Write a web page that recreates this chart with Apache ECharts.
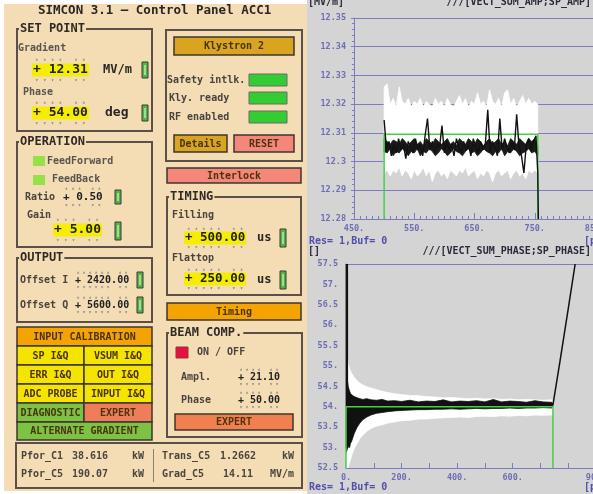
<!DOCTYPE html>
<html>
<head>
<meta charset="utf-8">
<script src="https://cdn.jsdelivr.net/npm/echarts@6/dist/echarts.min.js"></script>
<style>
html,body{margin:0;padding:0;background:#fff;}
#chart{width:593px;height:494px;}
</style>
</head>
<body>
<div id="chart"></div>
<script>
// ---- top plot: VECT_SUM_AMP / SP_AMP ----
var topYLabels = ['12.28', '12.29', '12.3', '12.31', '12.32', '12.33', '12.34', '12.35'];
var topXLabels = ['450.', '550.', '650.', '750.', '850.'];
var topEnvX = [500,505,510,515,520,525,530,535,540,545,550,555,560,565,570,575,580,585,590,595,600,605,610,615,620,625,630,635,640,645,650,655,660,665,670,675,680,685,690,695,700,705,710,715,720,725,730,735,740,745,750,755];
var topWhiteHi = [12.326,12.327,12.320,12.322,12.319,12.326,12.321,12.320,12.322,12.319,
  12.321,12.320,12.322,12.319,12.321,12.320,12.319,12.322,12.320,12.321,
  12.319,12.322,12.320,12.319,12.321,12.323,12.320,12.322,12.319,12.321,
  12.320,12.324,12.320,12.321,12.319,12.325,12.321,12.320,12.322,12.319,
  12.324,12.325,12.320,12.322,12.319,12.321,12.323,12.320,12.322,12.320,
  12.321,12.320];
var topWhiteLo = [12.296,12.297,12.295,12.297,12.296,12.298,12.295,12.297,12.296,12.294,
  12.297,12.295,12.296,12.298,12.295,12.297,12.293,12.296,12.297,12.295,
  12.296,12.294,12.297,12.296,12.295,12.297,12.296,12.298,12.295,12.296,
  12.297,12.294,12.296,12.295,12.297,12.296,12.293,12.296,12.297,12.295,
  12.296,12.297,12.294,12.296,12.297,12.295,12.296,12.294,12.297,12.296,
  12.297,12.296];
var topBlackHi = [12.308,12.307,12.306,12.3075,12.307,12.306,12.308,12.307,12.3055,12.307,
  12.308,12.306,12.307,12.3055,12.308,12.307,12.306,12.308,12.307,12.306,
  12.307,12.308,12.306,12.307,12.3055,12.308,12.307,12.306,12.308,12.307,
  12.306,12.308,12.307,12.3055,12.307,12.308,12.306,12.307,12.308,12.306,
  12.307,12.3055,12.308,12.307,12.306,12.308,12.307,12.306,12.308,12.307,
  12.308,12.3055];
var topBlackLo = [12.3035,12.303,12.3045,12.302,12.3035,12.303,12.3045,12.3035,12.302,12.3035,
  12.303,12.3045,12.302,12.3035,12.303,12.3045,12.3035,12.302,12.303,12.3045,
  12.3035,12.302,12.303,12.3045,12.3035,12.303,12.302,12.3035,12.3045,12.303,
  12.3035,12.302,12.303,12.3045,12.3035,12.303,12.302,12.3035,12.303,12.3045,
  12.302,12.3035,12.303,12.3045,12.3035,12.302,12.303,12.3035,12.3045,12.303,
  12.3035,12.302];
var topTraceX = [500,504,508,512,516,520,524,528,532,536,540,544,548,552,556,560,564,568,572,576,
  580,584,588,592,596,600,604,608,612,616,620,624,628,632,636,640,644,648,652,656,
  660,664,668,672,676,680,684,688,692,696,700,704,708,712,716,720,724,728,732,736,
  740,744,748,752,755,756];
var topTraceY = [12.3145,12.304,12.307,12.302,12.306,12.303,12.308,12.304,12.306,12.301,
  12.307,12.305,12.303,12.308,12.304,12.306,12.302,12.309,12.315,12.304,
  12.307,12.303,12.306,12.305,12.3125,12.303,12.307,12.304,12.306,12.302,
  12.308,12.305,12.303,12.307,12.304,12.306,12.302,12.308,12.305,12.303,
  12.307,12.304,12.306,12.318,12.303,12.307,12.305,12.302,12.315,12.304,
  12.308,12.305,12.303,12.307,12.304,12.3165,12.305,12.302,12.296,12.306,
  12.308,12.304,12.307,12.309,12.296,12.28];
var topSpX = [500, 500, 755, 755];
var topSpY = [12.28, 12.3095, 12.3095, 12.28];

// ---- bottom plot: VECT_SUM_PHASE / SP_PHASE ----
var botYLabels = ['52.5', '53.', '53.5', '54.', '54.5', '55.', '55.5', '56.', '56.5', '57.', '57.5'];
var botXShown = [0, 200, 400, 600, 900];
var botEnvX = [0,2,4,6,8,10,13,16,20,25,30,40,50,60,75,90,110,130,150,175,
  200,230,260,290,320,350,380,410,440,470,500,530,560,590,620,650,680,710,740,745];
var botWhiteHi = [55.6,55.45,55.3,55.15,55.05,55.0,54.93,54.88,54.82,54.77,
  54.72,54.64,54.58,54.54,54.49,54.46,54.42,54.38,54.35,54.32,
  54.3,54.28,54.27,54.25,54.24,54.22,54.23,54.21,54.2,54.21,
  54.19,54.2,54.18,54.19,54.17,54.18,54.17,54.16,54.17,54.12];
var botWhiteLo = [52.5,52.5,52.5,52.5,52.52,52.56,52.63,52.7,52.8,52.9,
  52.98,53.1,53.22,53.3,53.4,53.47,53.53,53.56,53.6,53.63,
  53.66,53.67,53.7,53.7,53.72,53.73,53.74,53.75,53.74,53.76,
  53.77,53.76,53.78,53.77,53.79,53.78,53.8,53.79,53.8,53.82];
var botBlackHi = [57.5,57.5,54.75,54.6,54.5,54.45,54.38,54.33,54.3,54.27,
  54.25,54.22,54.2,54.18,54.2,54.17,54.16,54.18,54.14,54.15,
  54.13,54.16,54.12,54.14,54.13,54.17,54.12,54.14,54.13,54.15,
  54.12,54.18,54.12,54.14,54.13,54.11,54.15,54.12,54.11,54.08];
var botBlackLo = [52.9,52.9,52.95,53.0,53.0,53.05,53.0,53.1,53.15,53.25,
  53.35,53.5,53.6,53.68,53.75,53.8,53.84,53.86,53.88,53.9,
  53.91,53.92,53.93,53.93,53.94,53.94,53.95,53.94,53.95,53.96,
  53.95,53.96,53.96,53.97,53.96,53.97,53.97,53.98,53.97,54.0];
var botStartX = [3, 3];
var botStartY = [57.5, 53.0];
var botRiseX = [745, 770, 800, 825];
var botRiseY = [54.05, 55.1, 56.4, 57.5];
var botSpX = [0, 0, 745, 745];
var botSpY = [52.5, 54.0, 54.0, 52.5];

var MONO = '"DejaVu Sans Mono"';
var beige = '#f4dcb4';
var axisBlue = '#7c7cc2';
var labelBlue = '#6e6eb4';

function zip(xs, ys) { return xs.map(function (x, i) { return [x, ys[i]]; }); }

// min/max envelope drawn as one polygon through the axis scales
function band(xs, lo, hi, color, idx) {
  return {
    type: 'custom', xAxisIndex: idx, yAxisIndex: idx, silent: true, clip: true,
    data: [[xs[0], lo[0]]],
    renderItem: function (params, api) {
      var pts = [];
      for (var i = 0; i < xs.length; i++) pts.push(api.coord([xs[i], hi[i]]));
      for (var j = xs.length - 1; j >= 0; j--) pts.push(api.coord([xs[j], lo[j]]));
      return { type: 'polygon', shape: { points: pts },
        style: { fill: color, stroke: color, lineWidth: 0.8 } };
    }
  };
}

function trace(xs, ys, color, width, idx) {
  return { type: 'line', xAxisIndex: idx, yAxisIndex: idx, data: zip(xs, ys), showSymbol: false,
    silent: true, lineStyle: { color: color, width: width } };
}

// ---- control panel drawn with graphic elements ----
var els = [];
function R(x, y, w, h, fill, stroke, lw) {
  els.push({ type: 'rect', shape: { x: x, y: y, width: w, height: h },
    style: { fill: fill || 'none', stroke: stroke || null, lineWidth: lw || 0 } });
}
function T(x, y, s, size, color, align, bold) {
  els.push({ type: 'text', x: x, y: y, style: { text: s,
    font: (bold === false ? '' : 'bold ') + size + 'px ' + MONO,
    fill: color || '#3a3530', align: align || 'left', verticalAlign: 'middle' } });
}
function frame(x, y, w, h, label) {
  R(x, y, w, h, null, '#5a5048', 2);
  if (label) {
    els.push({ type: 'text', x: x + 2, y: y, style: { text: label, font: 'bold 12px ' + MONO,
      fill: '#2e2a26', backgroundColor: beige, verticalAlign: 'middle', padding: [0, 1] } });
  }
}
function btn(x, y, w, h, fill, label) {
  R(x, y, w, h, fill, '#3c3630', 1.5);
  T(x + w / 2, y + h / 2 + 0.5, label, 10, '#4a3410', 'center');
}
function field(x, y, s, size, hl, dotColor) {
  var cw = size * 0.602;
  if (hl) R(x - 1, y - 6.5, s.length * cw + 2, 13, '#f5ee00');
  T(x, y, s, size, '#222');
  for (var i = 0; i < s.length; i++) {
    if (s[i] === '.') continue;
    T(x + (i + 0.5) * cw, y - size * 0.78, '\u25b4', 6, '#8a8a8a', 'center', false);
    T(x + (i + 0.5) * cw, y + size * 0.78, '\u25be', 6, dotColor || '#8a8a8a', 'center', false);
  }
}
function toggle(x, y, h) {
  R(x, y, 6, h, '#58b04a', '#3a3a3a', 1);
  R(x + 2, y + 3, 2, h - 6, '#9be08a');
}

R(0, 0, 307, 494, '#ffffff');
R(4, 4, 303, 487, beige);
T(38, 11, 'SIMCON 3.1 \u2013 Control Panel ACC1', 12.5, '#2a2622');

// set point
frame(17, 29, 135, 102, 'SET POINT');
T(18, 48, 'Gradient', 10, '#5a5450');
field(33, 70, '+ 12.31', 13, true);
T(103, 70, 'MV/m', 12, '#2a2622');
toggle(142, 62, 16);
T(23, 92, 'Phase', 10, '#5a5450');
field(33, 113, '+ 54.00', 13, true);
T(105, 113, 'deg', 13, '#2a2622');
toggle(142, 105, 16);

// operation
frame(17, 142, 135, 105, 'OPERATION');
R(33, 156, 12, 10, '#96e048');
T(47, 161, 'FeedForward', 10, '#5a5450');
R(33, 175, 12, 10, '#96e048');
T(52, 179, 'FeedBack', 10, '#5a5450');
T(25, 197, 'Ratio', 10, '#4a4440');
field(63, 197, '+ 0.50', 11, false);
toggle(115, 190, 14);
T(27, 215, 'Gain', 10, '#4a4440');
field(54, 230, '+ 5.00', 13, true, '#5cb85c');
toggle(115, 222, 18);

// output
frame(17, 258, 135, 64, 'OUTPUT');
T(20, 280, 'Offset I', 10, '#4a4440');
field(75, 280, '+ 2420.00', 10, false);
toggle(137, 272, 16);
T(20, 305, 'Offset Q', 10, '#4a4440');
field(75, 305, '+ 5600.00', 10, false);
toggle(137, 297, 16);

// button grid
btn(17, 327, 135, 19, '#f5a300', 'INPUT CALIBRATION');
btn(17, 346, 67, 19, '#f5e400', 'SP I&Q');
btn(84, 346, 68, 19, '#f5e400', 'VSUM I&Q');
btn(17, 365, 67, 19, '#f5e400', 'ERR I&Q');
btn(84, 365, 68, 19, '#f5e400', 'OUT I&Q');
btn(17, 384, 67, 19, '#f5e400', 'ADC PROBE');
btn(84, 384, 68, 19, '#f5e400', 'INPUT I&Q');
btn(17, 403, 67, 19, '#7dc242', 'DIAGNOSTIC');
btn(84, 403, 68, 19, '#f07d5a', 'EXPERT');
btn(17, 422, 135, 18, '#7dc242', 'ALTERNATE GRADIENT');

// readouts
R(16, 443, 286, 45, null, '#5a5048', 2);
R(153, 449, 1, 33, '#8a8078');
T(21, 456, 'Pfor_C1', 10, '#4a4440');
T(72, 456, '38.616', 10, '#4a4440');
T(132, 456, 'kW', 10, '#4a4440');
T(21, 474, 'Pfor_C5', 10, '#4a4440');
T(72, 474, '190.07', 10, '#4a4440');
T(132, 474, 'kW', 10, '#4a4440');
T(162, 456, 'Trans_C5', 10, '#4a4440');
T(220, 456, '1.2662', 10, '#4a4440');
T(282, 456, 'kW', 10, '#4a4440');
T(162, 474, 'Grad_C5', 10, '#4a4440');
T(223, 474, '14.11', 10, '#4a4440');
T(270, 474, 'MV/m', 10, '#4a4440');

// klystron
frame(166, 30, 136, 131);
btn(174, 37, 120, 18, '#d9a521', 'Klystron 2');
T(167, 80, 'Safety intlk.', 10, '#4a4440');
R(249, 74, 38, 12, '#33cc33', '#6a6a6a', 1);
T(169, 98, 'Kly. ready', 10, '#4a4440');
R(249, 92, 38, 12, '#33cc33', '#6a6a6a', 1);
T(169, 117, 'RF enabled', 10, '#4a4440');
R(249, 111, 38, 12, '#33cc33', '#6a6a6a', 1);
btn(174, 135, 53, 17, '#d9a521', 'Details');
btn(234, 135, 60, 17, '#f4877a', 'RESET');
btn(167, 168, 134, 15, '#f4877a', 'Interlock');

// timing
frame(167, 197, 134, 98, 'TIMING');
T(172, 215, 'Filling', 10, '#4a4440');
field(185, 238, '+ 500.00', 12.5, true);
T(257, 238, 'us', 12, '#2a2622');
toggle(280, 229, 18);
T(172, 258, 'Flattop', 10, '#4a4440');
field(185, 279, '+ 250.00', 12.5, true);
T(257, 280, 'us', 12, '#2a2622');
toggle(280, 271, 18);
btn(167, 303, 134, 17, '#f5a300', 'Timing');

// beam comp
frame(167, 333, 135, 104, 'BEAM COMP.');
R(176, 347, 12, 11, '#e8103c', '#8a3a3a', 1);
T(197, 352, 'ON / OFF', 10, '#4a4440');
T(181, 377, 'Ampl.', 10, '#4a4440');
field(238, 377, '+ 21.10', 10, false);
T(181, 400, 'Phase', 10, '#4a4440');
field(238, 400, '+ 50.00', 10, false);
btn(175, 414, 118, 16, '#f08050', 'EXPERT');

// plot headers
T(308, 2, '[MV/m]', 10, '#2a2a3a');
T(591, 2, '///[VECT_SUM_AMP;SP_AMP]', 10, '#2a2a3a', 'right');
T(309, 241, 'Res= 1,Buf= 0', 10, '#5050a8');
T(584, 241, '[pts]', 10, '#5050a8');
T(308, 251, '[]', 10, '#2a2a3a');
T(591, 251, '///[VECT_SUM_PHASE;SP_PHASE]', 10, '#2a2a3a', 'right');
T(309, 487, 'Res= 1,Buf= 0', 10, '#5050a8');
T(584, 487, '[pts]', 10, '#5050a8');

var labelFont = { color: labelBlue, fontFamily: MONO, fontWeight: 'bold', fontSize: 8.5 };

var option = {
  backgroundColor: '#d4d4d4',
  animation: false,
  grid: [
    { left: 354, top: 18, width: 241, height: 201, outerBoundsMode: 'none' },
    { left: 346, top: 264, width: 250, height: 204, outerBoundsMode: 'none' }
  ],
  xAxis: [
    { type: 'value', gridIndex: 0, min: 450, max: 850, interval: 100,
      axisLine: { lineStyle: { color: axisBlue } },
      axisTick: { inside: true, length: 6, lineStyle: { color: axisBlue } },
      minorTick: { show: true, splitNumber: 10, length: 3, lineStyle: { color: axisBlue } },
      splitLine: { show: false },
      axisLabel: Object.assign({ margin: 5, formatter: function (v) {
        return topXLabels[Math.round((v - 450) / 100)] || ''; } }, labelFont) },
    { type: 'value', gridIndex: 1, min: 0, max: 900, interval: 100,
      axisLine: { lineStyle: { color: axisBlue } },
      axisTick: { inside: true, length: 5, lineStyle: { color: axisBlue } },
      splitLine: { show: false },
      axisLabel: Object.assign({ margin: 5, showMaxLabel: true, formatter: function (v) {
        return botXShown.indexOf(v) >= 0 ? v + '.' : ''; } }, labelFont) },
    { type: 'value', gridIndex: 1, position: 'top', min: 0, max: 900,
      axisLine: { lineStyle: { color: axisBlue } },
      axisTick: { show: false }, axisLabel: { show: false }, splitLine: { show: false } }
  ],
  yAxis: [
    { type: 'value', gridIndex: 0, min: 12.28, max: 12.35, interval: 0.01,
      axisLine: { show: true, lineStyle: { color: axisBlue } },
      axisTick: { show: true, length: 3, lineStyle: { color: axisBlue } },
      minorTick: { show: true, splitNumber: 5, length: 2, lineStyle: { color: axisBlue } },
      splitLine: { show: true, lineStyle: { color: axisBlue, width: 1 } },
      axisLabel: Object.assign({ margin: 8, formatter: function (v) {
        return topYLabels[Math.round((v - 12.28) / 0.01)] || ''; } }, labelFont) },
    { type: 'value', gridIndex: 1, min: 52.5, max: 57.5, interval: 0.5,
      axisLine: { show: true, lineStyle: { color: axisBlue } },
      axisTick: { show: false },
      splitLine: { show: false },
      axisLabel: Object.assign({ margin: 8, formatter: function (v) {
        return botYLabels[Math.round((v - 52.5) / 0.5)] || ''; } }, labelFont) }
  ],
  series: [
    band(topEnvX, topWhiteLo, topWhiteHi, '#ffffff', 0),
    band(topEnvX, topBlackLo, topBlackHi, '#1a1a1a', 0),
    trace(topSpX, topSpY, '#45d045', 1.5, 0),
    trace(topTraceX, topTraceY, '#111111', 1.4, 0),
    band(botEnvX, botWhiteLo, botWhiteHi, '#ffffff', 1),
    band(botEnvX, botBlackLo, botBlackHi, '#111111', 1),
    trace(botStartX, botStartY, '#111111', 2.5, 1),
    trace(botSpX, botSpY, '#45d045', 1.5, 1),
    trace(botRiseX, botRiseY, '#111111', 1.5, 1)
  ],
  graphic: { elements: els }
};

var myChart = echarts.init(document.getElementById('chart'));
myChart.setOption(option);
</script>
</body>
</html>
